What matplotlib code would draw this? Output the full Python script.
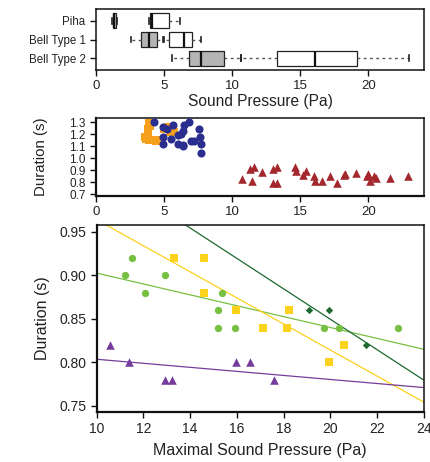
import numpy as np
import matplotlib
matplotlib.use("Agg")
import matplotlib.pyplot as plt

plt.rcParams['font.family'] = ['Liberation Sans', 'DejaVu Sans']
plt.rcParams['text.color'] = '#222222'
plt.rcParams['axes.labelcolor'] = '#222222'
plt.rcParams['xtick.color'] = '#111111'
plt.rcParams['ytick.color'] = '#111111'
plt.rcParams['xtick.labelcolor'] = '#222222'
plt.rcParams['ytick.labelcolor'] = '#222222'

# --- box plot summary (sound pressure, Pa): low whisker, q1, median, q3, high whisker
rows = ["Piha", "Bell Type 1", "Bell Type 2"]
gray_stats = [(1.2, 1.25, 1.35, 1.45, 1.55),
              (2.55, 3.28, 3.87, 4.51, 5.0),
              (5.6, 6.86, 7.70, 9.43, 10.64)]
white_stats = [(3.87, 3.97, 4.09, 5.34, 6.18),
               (4.95, 5.37, 6.47, 7.06, 7.72),
               (10.64, 13.33, 16.08, 19.17, 23.0)]

# --- middle panel scatter
piha_x = [3.9, 3.95, 3.85, 3.8, 3.6, 3.7, 3.9, 4.1, 4.4, 4.5, 5.0, 5.2, 5.4, 5.5, 5.7, 5.3]
piha_y = [1.29, 1.27, 1.24, 1.21, 1.18, 1.16, 1.15, 1.15, 1.14, 1.15, 1.24, 1.25, 1.22, 1.23, 1.22, 1.26]
bt1_x = [4.26, 4.95, 5.2, 5.64, 6.47, 6.81, 6.37, 6.23, 6.0, 4.95, 5.54, 4.95, 6.03, 6.37,
         6.37, 6.96, 7.2, 7.6, 7.65, 7.7, 7.74]
bt1_y = [1.30, 1.26, 1.24, 1.28, 1.28, 1.30, 1.23, 1.20, 1.19, 1.18, 1.16, 1.12, 1.12, 1.11,
         1.10, 1.14, 1.14, 1.24, 1.18, 1.12, 1.04]
bt2_x = [10.69, 11.47, 11.3, 11.6, 12.2, 13.0, 13.3, 13.0, 13.3, 14.65, 14.7, 15.2, 15.4,
         16.0, 16.05, 16.6, 17.2, 17.7, 18.3, 18.25, 19.1, 19.9, 20.0, 20.1, 20.4, 20.6, 21.6, 22.95]
bt2_y = [0.827, 0.805, 0.912, 0.925, 0.88, 0.91, 0.93, 0.79, 0.79, 0.93, 0.89, 0.86, 0.89,
         0.85, 0.81, 0.81, 0.85, 0.79, 0.87, 0.855, 0.875, 0.85, 0.87, 0.81, 0.85, 0.83, 0.83, 0.85]

# --- bottom panel, four groups of Bell Type 2 calls
g_x = [11.5, 11.2, 12.07, 12.91, 15.36, 15.19, 15.19, 15.93, 19.72, 20.37, 22.88]
g_y = [0.92, 0.90, 0.88, 0.90, 0.88, 0.86, 0.84, 0.84, 0.84, 0.84, 0.84]
y_x = [13.3, 14.6, 14.6, 15.98, 17.12, 18.25, 18.16, 20.6, 19.94]
y_y = [0.92, 0.92, 0.88, 0.86, 0.84, 0.86, 0.84, 0.82, 0.80]
p_x = [10.58, 11.38, 12.91, 13.22, 15.95, 16.58, 17.6]
p_y = [0.82, 0.80, 0.78, 0.78, 0.80, 0.80, 0.78]
d_x = [19.07, 19.94, 21.51]
d_y = [0.86, 0.86, 0.82]

fig = plt.figure(figsize=(4.3, 4.62), dpi=100)

# ---------------- top: box plots
ax1 = fig.add_axes([0.2233, 0.8485, 0.763, 0.132])
pos = [3, 2, 1]


def mk(s):
    return dict(whislo=s[0], q1=s[1], med=s[2], q3=s[3], whishi=s[4], fliers=[])


for stats, face in [(gray_stats, '#b4b4b4'), (white_stats, 'white')]:
    ax1.bxp([mk(s) for s in stats], positions=pos, vert=False, widths=0.8,
            patch_artist=True, showfliers=False, capwidths=0.3,
            boxprops=dict(facecolor=face, edgecolor='#222222', linewidth=0.9),
            medianprops=dict(color='#111111', linewidth=1.6),
            whiskerprops=dict(color='#555555', linewidth=1.0, linestyle=(0, (2, 2.5))),
            capprops=dict(color='#222222', linewidth=1.2))
ax1.set_yticks(pos)
ax1.set_yticklabels(rows, fontsize=8.3)
ax1.set_ylim(0.37, 3.63)
ax1.set_xlim(0, 24.1)
ax1.set_xticks([0, 5, 10, 15, 20])
ax1.tick_params(axis='x', labelsize=9.5, length=4, width=1)
ax1.tick_params(axis='y', length=4, width=1)
ax1.set_xlabel("Sound Pressure (Pa)", fontsize=11.2)
ax1.xaxis.set_label_coords(0.5, -0.39)

# ---------------- middle: scatter
ax2 = fig.add_axes([0.2233, 0.5764, 0.763, 0.1688])
ax2.scatter(piha_x, piha_y, marker='s', s=30, color='#f6a01e', linewidths=0, zorder=2)
ax2.scatter(bt1_x, bt1_y, marker='o', s=34, color='#2a2e8e', linewidths=0, zorder=3)
ax2.scatter(bt2_x, bt2_y, marker='^', s=38, color='#a3272c', linewidths=0, zorder=3)
ax2.set_xlim(0, 24.1)
ax2.set_ylim(0.686, 1.338)
ax2.set_xticks([0, 5, 10, 15, 20])
ax2.set_yticks([0.7, 0.8, 0.9, 1.0, 1.1, 1.2, 1.3])
ax2.set_yticklabels(["0.7", "0.8", "0.9", "1.0", "1.1", "1.2", "1.3"])
ax2.tick_params(axis='x', labelsize=9.5, length=4, width=1)
ax2.tick_params(axis='y', labelsize=8.5, length=4, width=1)
ax2.set_ylabel("Duration (s)", fontsize=10.8)
ax2.yaxis.set_label_coords(-0.145, 0.5)

# ---------------- bottom: groups with regression lines
ax3 = fig.add_axes([0.2249, 0.1082, 0.7604, 0.4048])
xx = np.array([10, 24])
groups = [(g_x, g_y, 'o', '#78c043', 28),
          (y_x, y_y, 's', '#fcd21d', 34),
          (p_x, p_y, '^', '#763c9b', 38),
          (d_x, d_y, 'D', '#1c6a30', 14)]
for gx, gy, m, c, s in groups:
    k, b = np.polyfit(gx, gy, 1)
    ax3.plot(xx, k * xx + b, color=c, linewidth=0.9, zorder=2)
    ax3.scatter(gx, gy, marker=m, s=s, color=c, linewidths=0, zorder=3)
ax3.set_xlim(10, 24)
ax3.set_ylim(0.743, 0.958)
ax3.set_xticks(np.arange(10, 25, 2))
ax3.set_yticks([0.75, 0.80, 0.85, 0.90, 0.95])
ax3.set_yticklabels(["0.75", "0.80", "0.85", "0.90", "0.95"])
ax3.tick_params(labelsize=10, length=4, width=1)
ax3.set_xlabel("Maximal Sound Pressure (Pa)", fontsize=11.5)
ax3.xaxis.set_label_coords(0.5, -0.165)
ax3.set_ylabel("Duration (s)", fontsize=11.5)
ax3.yaxis.set_label_coords(-0.143, 0.5)

for ax in (ax1, ax2, ax3):
    for sp in ax.spines.values():
        sp.set_linewidth(1.1)
        sp.set_color('#111111')
for ax in (ax2, ax3):
    ax.spines['left'].set_linewidth(1.6)
    ax.spines['bottom'].set_linewidth(1.6)

fig.savefig("out.png", dpi=100)
